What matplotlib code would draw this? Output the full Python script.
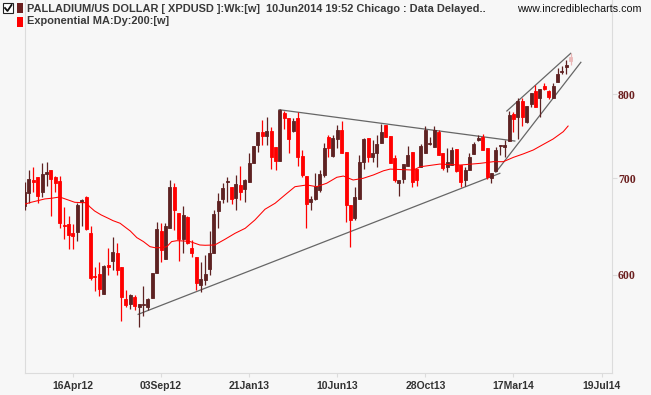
import matplotlib
matplotlib.use('Agg')
import matplotlib.pyplot as plt
from matplotlib.patches import Rectangle
from matplotlib.lines import Line2D
from matplotlib.ticker import NullLocator, NullFormatter, FixedLocator

# ---------------- data (weekly candles, XPDUSD) ----------------
opens = [669.6, 683.9, 697.8, 701.1, 684.6, 704.5, 708.9, 701.4, 696.7, 649.7,
         650.7, 641.4, 642.8, 673.9, 679.2, 641.1, 599.0, 600.9, 582.1, 609.6,
         613.5, 621.4, 607.4, 577.2, 573.0, 579.4, 570.5, 572.4, 570.2, 578.7,
         602.2, 643.8, 615.8, 646.9, 690.4, 662.5, 635.0, 658.2, 626.6, 617.1,
         590.5, 595.2, 605.8, 621.7, 664.3, 677.1, 695.3, 689.7, 678.5, 692.3,
         688.2, 695.6, 717.2, 737.8, 753.5, 748.3, 754.3, 735.0, 719.2, 775.8,
         769.7, 754.3, 769.7, 724.9, 702.2, 674.2, 677.1, 686.8, 703.4, 747.1,
         725.3, 744.4, 755.9, 729.9, 670.6, 656.6, 676.8, 718.4, 745.6, 724.1,
         728.8, 740.4, 761.7, 748.3, 722.3, 694.8, 698.6, 713.4, 729.9, 709.7,
         712.6, 728.1, 739.0, 735.7, 753.5, 728.1, 712.6, 714.6, 732.7, 714.6,
         697.8, 708.9, 727.3, 743.6, 747.5, 733.9, 699.7, 708.1, 736.6, 735.7,
         742.4, 774.9, 770.9, 791.2, 765.5, 787.4, 804.2, 794.6, 810.2, 804.2,
         795.3, 815.0, 828.9, 835.5, 848.2]
highs = [695.6, 708.9, 712.2, 701.1, 716.9, 718.0, 708.9, 702.5, 702.2, 668.8,
         659.3, 650.7, 672.5, 677.4, 680.6, 648.6, 608.0, 612.9, 609.6, 626.6,
         637.0, 631.0, 607.4, 585.8, 582.1, 580.9, 573.0, 589.5, 578.1, 601.9,
         653.0, 652.0, 652.0, 697.8, 694.2, 662.5, 669.6, 658.9, 634.3, 617.1,
         612.6, 619.4, 643.5, 665.3, 683.5, 694.2, 700.8, 689.7, 703.0, 713.4,
         699.2, 728.8, 736.6, 753.5, 767.6, 771.6, 759.4, 735.7, 780.7, 778.7,
         769.7, 769.7, 777.9, 731.9, 702.2, 680.2, 705.6, 708.9, 739.7, 749.5,
         749.5, 761.7, 766.7, 729.9, 670.6, 689.7, 726.1, 745.6, 745.6, 743.6,
         749.5, 762.9, 761.7, 748.3, 726.1, 697.8, 715.7, 736.6, 729.9, 709.7,
         739.0, 760.3, 747.5, 760.3, 755.5, 728.1, 733.9, 735.7, 732.7, 714.6,
         712.6, 728.1, 741.6, 749.5, 750.8, 733.9, 705.9, 735.7, 737.8, 743.6,
         779.0, 777.9, 794.6, 794.6, 784.8, 800.9, 811.5, 806.0, 813.7, 805.1,
         813.7, 833.4, 836.4, 844.4, 853.5]
lows = [665.3, 672.8, 684.6, 672.8, 679.2, 691.2, 659.3, 685.0, 646.2, 635.3,
        625.0, 625.3, 633.6, 648.6, 644.5, 595.2, 585.2, 580.5, 582.1, 600.3,
        604.8, 600.0, 558.0, 570.5, 568.1, 567.5, 552.7, 562.3, 567.5, 578.7,
        602.2, 612.9, 615.5, 646.9, 644.5, 613.8, 621.7, 630.0, 617.7, 585.8,
        584.0, 590.5, 600.0, 621.4, 646.6, 672.5, 674.2, 671.4, 665.3, 676.0,
        674.2, 695.6, 717.2, 729.9, 737.8, 737.8, 709.7, 708.9, 719.2, 756.3,
        728.8, 753.5, 713.4, 701.1, 646.6, 665.3, 676.0, 685.0, 701.4, 724.1,
        724.1, 733.9, 728.8, 653.0, 627.6, 654.8, 676.8, 709.7, 718.4, 718.4,
        712.6, 740.4, 746.7, 717.2, 695.6, 680.2, 694.2, 713.4, 690.4, 691.2,
        712.6, 728.1, 737.5, 735.7, 726.1, 708.9, 707.0, 714.6, 706.7, 690.4,
        691.2, 708.9, 727.3, 742.4, 731.9, 698.9, 694.8, 708.1, 726.1, 724.1,
        742.4, 753.5, 744.4, 760.3, 763.5, 784.0, 783.3, 770.9, 805.1, 793.3,
        794.6, 815.0, 825.8, 825.8, 837.7]
closes = [684.6, 698.9, 695.9, 680.6, 704.5, 706.7, 699.2, 694.8, 652.0, 648.6,
          639.7, 638.3, 670.6, 676.3, 645.2, 597.1, 598.0, 586.7, 608.6, 608.0,
          622.1, 604.8, 579.6, 572.0, 580.9, 571.4, 573.0, 573.0, 577.5, 601.9,
          645.5, 624.3, 648.6, 690.4, 665.3, 635.0, 659.7, 631.0, 621.7, 592.7,
          596.1, 600.9, 621.7, 661.1, 674.9, 688.6, 696.7, 677.1, 693.4, 685.0,
          697.8, 717.2, 736.6, 753.5, 748.3, 754.3, 724.1, 719.2, 779.9, 770.4,
          744.4, 766.7, 723.4, 703.4, 671.7, 676.8, 691.2, 704.5, 733.9, 734.2,
          745.6, 755.9, 728.8, 670.6, 654.8, 678.9, 718.4, 744.4, 724.1, 728.1,
          738.9, 753.5, 747.5, 717.2, 697.8, 697.8, 715.7, 726.1, 695.9, 697.8,
          736.6, 755.5, 740.5, 755.5, 726.1, 710.8, 718.4, 731.9, 708.1, 695.9,
          708.9, 723.4, 739.0, 745.6, 731.9, 700.8, 705.9, 731.9, 737.4, 737.4,
          773.6, 768.8, 791.2, 770.9, 784.8, 800.9, 783.3, 806.0, 806.0, 795.8,
          810.2, 825.4, 830.2, 837.7, 843.0]

# Exponential MA (Dy:200): week position and value
ma_week = [0, 1.5, 3.1, 4.6, 6.1, 7.6, 8.4, 9.9, 11.4, 12.9, 14.0, 14.8, 15.9,
           17.4, 19.0, 20.1, 21.7, 23.2, 24.0, 25.5, 27.0, 28.5, 29.6, 31.1,
           32.3, 33.4, 34.6, 36.1, 37.6, 38.7, 39.8, 41.0, 43.2, 45.5, 47.8,
           50.1, 52.3, 54.6, 56.9, 59.1, 61.4, 64.1, 66.3, 68.6, 70.9, 72.4,
           74.6, 76.9, 79.2, 81.5, 83.0, 85.3, 88.3, 89.8, 94.3, 98.9, 103.4,
           106.4, 108.7, 111.0, 113.2, 115.5, 117.8, 120.0, 122.3, 123.4]
ma_val = [671.4, 673.5, 675.3, 677.1, 677.8, 678.9, 678.5, 676.0, 673.5, 673.1,
          673.1, 668.8, 664.3, 660.1, 656.6, 654.1, 651.4, 646.2, 643.5, 636.7,
          632.7, 627.6, 626.6, 626.6, 627.6, 632.7, 633.6, 633.3, 632.7, 631.0,
          629.3, 629.0, 629.3, 635.0, 641.1, 646.2, 654.8, 666.1, 672.5, 681.3,
          690.4, 692.3, 690.4, 694.2, 700.8, 702.2, 697.8, 699.7, 703.4, 708.1,
          710.0, 709.5, 708.9, 712.6, 715.7, 714.6, 716.5, 718.4, 718.4, 723.4,
          727.3, 731.9, 738.5, 744.8, 753.5, 760.3]

# trend lines (week position, price)
support_w, support_p = [25.8, 107.9], [563.6, 705.2]
resist_w, resist_p = [57.8, 111.3], [780.3, 742.4]
chan_top_w, chan_top_p = [109.5, 124.0], [778.7, 853.5]
chan_bot_w, chan_bot_p = [107.0, 126.3], [706.4, 841.4]

xtick_week = [11, 31, 51, 71, 91, 111, 131]
xtick_labels = ['16Apr12', '03Sep12', '21Jan13', '10Jun13', '28Oct13', '17Mar14', '19Jul14']
ytick_vals = [600, 700, 800]

# ---------------- styling ----------------
W, H = 651, 395
BG = '#F7F7F7'
UP = '#5E2222'
DOWN = '#FF0000'
LAST = '#EBB8B8'
SPINE = '#DCDCDC'

fig = plt.figure(figsize=(W / 100, H / 100), dpi=100, facecolor=BG)
ax = fig.add_axes([24.5 / W, 22 / H, 587.2 / W, 373 / H])
ax.set_facecolor(BG)
ax.set_yscale('log')
ax.set_xlim(0, 133.3)
ax.set_ylim(513.4, 929)

n = len(closes)
weeks = list(range(n))
for i in weeks:
    o, h, l, c = opens[i], highs[i], lows[i], closes[i]
    if i == n - 1:
        col = LAST
    else:
        col = UP if c >= o else DOWN
    ax.vlines(i, l, h, color=col, lw=0.9, zorder=3)
    lo, hi = min(o, c), max(o, c)
    ax.bar(i, hi - lo, bottom=lo, width=0.68, color=col, edgecolor=col,
           linewidth=0.6, zorder=4)

ax.plot(ma_week, ma_val, color='#FF0000', lw=0.75, zorder=5)

for xs, ys in [(support_w, support_p), (resist_w, resist_p),
               (chan_top_w, chan_top_p), (chan_bot_w, chan_bot_p)]:
    ax.plot(xs, ys, color='#666666', lw=0.9, zorder=2)

for s in ['left', 'right', 'bottom']:
    ax.spines[s].set_color(SPINE)
    ax.spines[s].set_linewidth(0.8)
ax.spines['top'].set_visible(False)

ax.yaxis.tick_right()
ax.yaxis.set_major_locator(FixedLocator(ytick_vals))
ax.yaxis.set_minor_locator(NullLocator())
ax.yaxis.set_minor_formatter(NullFormatter())
ax.set_yticklabels([str(v) for v in ytick_vals],
                   fontdict=dict(family='Liberation Serif', weight='bold', size=8.5))
ax.tick_params(axis='y', which='major', length=3.6, width=0.8, color=SPINE,
               labelcolor='#6B1F1F', pad=1.0)

ax.set_xticks(xtick_week)
ax.set_xticklabels(xtick_labels,
                   fontdict=dict(family='Liberation Sans', weight='bold', size=7.5))
ax.tick_params(axis='x', length=3, width=0.8, color=SPINE, labelcolor='#333333', pad=3)

# ---------------- header ----------------
def px(x, y):
    return x / W, 1 - y / H

# checkbox
fig.patches.append(Rectangle(px(3, 13), 10 / W, 10 / H, transform=fig.transFigure,
                             facecolor='white', edgecolor='#222222', lw=0.8))
fig.lines.append(Line2D([px(5, 8)[0], px(7.5, 11)[0], px(11.5, 5)[0]],
                        [px(5, 8)[1], px(7.5, 11)[1], px(11.5, 5)[1]],
                        transform=fig.transFigure, color='#111111', lw=1.3))
fig.patches.append(Rectangle(px(17, 13), 5.5 / W, 10 / H, transform=fig.transFigure,
                             facecolor='#6B1F1F', edgecolor='none'))
fig.patches.append(Rectangle(px(17, 27), 5.5 / W, 10 / H, transform=fig.transFigure,
                             facecolor='#FF0000', edgecolor='none'))

hx, hy = px(27, 8.5)
fig.text(hx, hy, 'PALLADIUM/US DOLLAR [ XPDUSD ]:Wk:[w]  10Jun2014 19:52 Chicago : Data Delayed..',
         family='Liberation Sans', weight='bold', size=7.9, color='#3A3A3A', va='center', ha='left')
hx, hy = px(27, 21.5)
fig.text(hx, hy, 'Exponential MA:Dy:200:[w]',
         family='Liberation Sans', weight='bold', size=7.9, color='#3A3A3A', va='center', ha='left')
hx, hy = px(641, 8.5)
fig.text(hx, hy, 'www.incrediblecharts.com', family='Liberation Sans', size=7.7,
         color='#111111', va='center', ha='right')

fig.savefig('out.png', dpi=100, facecolor=BG)
